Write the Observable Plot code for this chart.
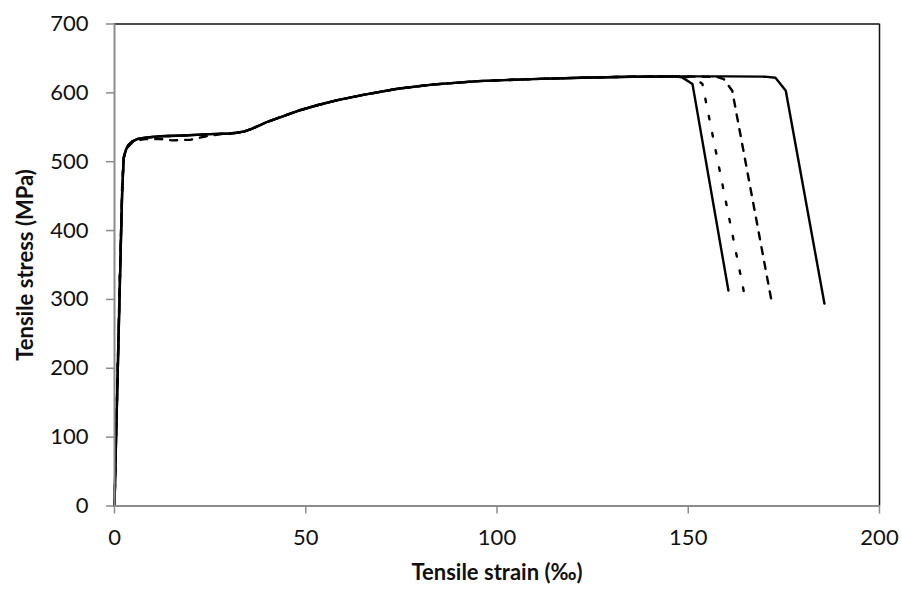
<!DOCTYPE html>
<html>
<head>
<meta charset="utf-8">
<script src="https://cdn.jsdelivr.net/npm/d3@7"></script>
<script src="https://cdn.jsdelivr.net/npm/@observablehq/plot@0.6"></script>
<style>
  html, body { margin: 0; padding: 0; background: #fff; }
  #chart svg { display: block; }
</style>
</head>
<body>
<div id="chart"></div>
<script>
// Series 1: solid (earliest fracture)
const s1X = [0, 0.4, 1, 1.5, 2, 2.4, 3, 3.6, 4.5, 6, 8, 12, 18, 25, 30, 32, 34, 36, 38, 40, 44, 48, 53, 58, 65, 74, 83, 95, 109, 122, 135, 146, 148.4, 151.1, 160.5];
const s1Y = [0, 95, 230, 345, 455, 505, 517, 524, 529, 533, 535, 537, 538, 540, 541, 542, 544, 548, 553, 558, 566, 574, 582, 589, 597, 606, 612, 617, 620, 622, 623.5, 624, 622.5, 613, 313];
// Series 2: dotted
const s2X = [0, 0.4, 1, 1.5, 2, 2.4, 3, 3.6, 4.5, 6, 8, 12, 18, 25, 30, 32, 34, 36, 38, 40, 44, 48, 53, 58, 65, 74, 83, 95, 109, 122, 135, 148, 151.5, 153.7, 164.8];
const s2Y = [0, 100, 235, 350, 460, 507, 518, 524, 529, 533, 535, 537, 538, 540, 541, 542, 544, 548, 553, 558, 566, 574, 582, 589, 597, 606, 612, 617, 620, 622, 623.5, 624, 622, 613, 304];
// Series 3: dashed
const s3X = [0, 0.4, 1, 1.5, 2, 2.4, 3, 3.6, 5, 8, 12, 15, 20, 24, 28, 32, 34, 36, 38, 40, 44, 48, 53, 58, 65, 74, 83, 95, 109, 122, 135, 148, 157.5, 159.3, 161.5, 172];
const s3Y = [0, 105, 240, 355, 465, 506, 516, 522, 530, 533, 533, 531, 532, 537, 540, 542, 544, 548, 553, 558, 566, 574, 582, 589, 597, 606, 612, 617, 620, 622, 623.5, 624, 623, 620, 603, 291];
// Series 4: solid (latest fracture)
const s4X = [0, 0.4, 1, 1.5, 2, 2.4, 3, 3.6, 4.5, 6, 8, 12, 18, 25, 30, 32, 34, 36, 38, 40, 44, 48, 53, 58, 65, 74, 83, 95, 109, 122, 135, 148, 160, 170, 172.8, 175.5, 185.6];
const s4Y = [0, 95, 230, 345, 455, 505, 518, 524, 529, 533, 535, 537, 538, 540, 541, 542, 544, 548, 553, 558, 566, 574, 582, 589, 597, 606, 612, 617, 620, 622, 623.5, 624, 624, 623.5, 622, 603, 294];

const xTicks = [0, 50, 100, 150, 200];
const yTicks = [0, 100, 200, 300, 400, 500, 600, 700];
const xLabel = "Tensile strain (‰)";
const yLabel = "Tensile stress (MPa)";

const toPts = (xs, ys) => xs.map((x, i) => ({x, y: ys[i]}));
const d1 = toPts(s1X, s1Y), d2 = toPts(s2X, s2Y), d3 = toPts(s3X, s3Y), d4 = toPts(s4X, s4Y);

const axisGray = "#8c8c8c";
const font = "Lato, 'Open Sans', sans-serif";

const chart = Plot.plot({
  width: 902,
  height: 597,
  marginLeft: 114,
  marginRight: 23,
  marginTop: 23.5,
  marginBottom: 91.5,
  style: {fontFamily: font, fontSize: "22px", color: "#111", background: "#fff"},
  x: {domain: [0, 200]},
  y: {domain: [0, 700]},
  marks: [
    Plot.ruleY([700], {stroke: "#111", strokeWidth: 1.5}),
    Plot.ruleX([200], {stroke: "#111", strokeWidth: 1.5}),
    Plot.line(d3, {x: "x", y: "y", stroke: "#000", strokeWidth: 2.4, strokeDasharray: "7,8"}),
    Plot.line(d2, {x: "x", y: "y", stroke: "#000", strokeWidth: 2.4, strokeDasharray: "3.5,14"}),
    Plot.line(d1, {x: "x", y: "y", stroke: "#000", strokeWidth: 2.4}),
    Plot.line(d4, {x: "x", y: "y", stroke: "#000", strokeWidth: 2.4}),
    Plot.ruleX([0], {stroke: axisGray, strokeWidth: 2}),
    Plot.ruleY([0], {stroke: axisGray, strokeWidth: 2}),
    Plot.axisX({ticks: xTicks, tickSize: 8, tickPadding: 15, stroke: axisGray, strokeWidth: 1.5, label: null, fill: "#111"}),
    Plot.axisY({ticks: yTicks, tickSize: 8, tickPadding: 18, stroke: axisGray, strokeWidth: 1.5, label: null, fill: "#111"}),
    Plot.text([xLabel], {frameAnchor: "bottom", dy: 67, lineAnchor: "middle", textAnchor: "middle", fontWeight: "bold", fontSize: 22, fill: "#111"}),
    Plot.text([yLabel], {frameAnchor: "left", dx: -89, rotate: -90, lineAnchor: "middle", textAnchor: "middle", fontWeight: "bold", fontSize: 22, fill: "#111"})
  ]
});
document.getElementById("chart").appendChild(chart);
</script>
</body>
</html>
